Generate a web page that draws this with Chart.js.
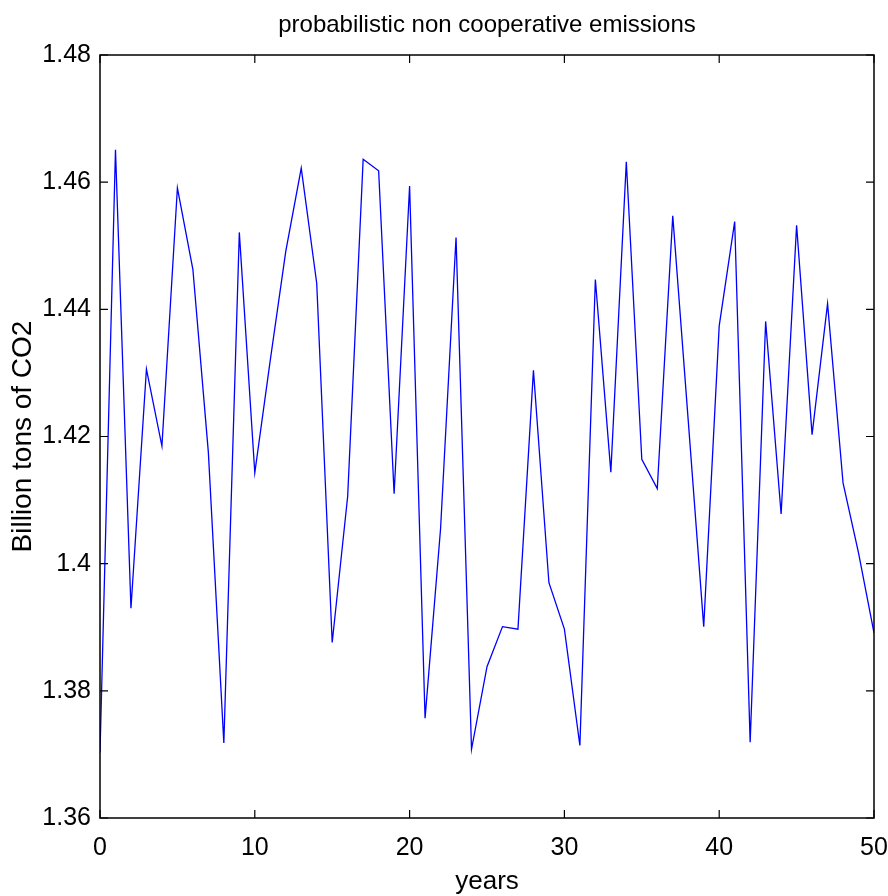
<!DOCTYPE html>
<html>
<head>
<meta charset="utf-8">
<title>probabilistic non cooperative emissions</title>
<script src="https://cdn.jsdelivr.net/npm/chart.js@4.4.1/dist/chart.umd.min.js"></script>
<style>
  html, body { margin: 0; padding: 0; background: #ffffff; overflow: hidden; }
  #wrap { width: 888px; height: 896px; position: relative; }
  #chart { display: block; }
</style>
</head>
<body>
<div id="wrap"><canvas id="chart"></canvas></div>
<script>
// Simulated yearly emissions (billion tons of CO2), years 0..50
const years = [
  0, 1, 2, 3, 4, 5, 6, 7, 8, 9,
  10, 11, 12, 13, 14, 15, 16, 17, 18, 19,
  20, 21, 22, 23, 24, 25, 26, 27, 28, 29,
  30, 31, 32, 33, 34, 35, 36, 37, 38, 39,
  40, 41, 42, 43, 44, 45, 46, 47, 48, 49, 50
];
const emissions = [
  1.3703, 1.4651, 1.3930, 1.4306, 1.4185, 1.4591, 1.4463, 1.4175, 1.3718, 1.4521,
  1.4143, 1.4320, 1.4491, 1.4622, 1.4441, 1.3876, 1.4106, 1.4636, 1.4618, 1.4110,
  1.4594, 1.3757, 1.4055, 1.4513, 1.3708, 1.3838, 1.3901, 1.3897, 1.4304, 1.3970,
  1.3897, 1.3714, 1.4447, 1.4144, 1.4632, 1.4164, 1.4118, 1.4547, 1.4225, 1.3901,
  1.4374, 1.4538, 1.3719, 1.4381, 1.4078, 1.4532, 1.4203, 1.4409, 1.4127, 1.4017,
  1.3891
];

const xTickValues = [0, 10, 20, 30, 40, 50];
const xTickLabels = ['0', '10', '20', '30', '40', '50'];
const yTickValues = [1.36, 1.38, 1.40, 1.42, 1.44, 1.46, 1.48];
const yTickLabels = ['1.36', '1.38', '1.4', '1.42', '1.44', '1.46', '1.48'];

const titleText = 'probabilistic non cooperative emissions';
const FONT = "'Liberation Sans', Arial, Helvetica, sans-serif";

// Title centred over the plotting box
const plotTitle = {
  id: 'plotTitle',
  afterDraw(chart) {
    const { ctx, chartArea: a } = chart;
    ctx.save();
    ctx.fillStyle = '#000000';
    ctx.font = '24px ' + FONT;
    ctx.textAlign = 'center';
    ctx.textBaseline = 'middle';
    ctx.fillText(titleText, (a.left + a.right) / 2, 25);
    ctx.restore();
  }
};

// Boxed axes with inward tick marks on all four sides
const boxAxes = {
  id: 'boxAxes',
  afterDraw(chart) {
    const { ctx, chartArea: a, scales } = chart;
    const len = 8;
    ctx.save();
    ctx.strokeStyle = '#000000';
    ctx.lineWidth = 1.5;
    ctx.strokeRect(a.left, a.top, a.right - a.left, a.bottom - a.top);
    ctx.lineWidth = 1.2;
    ctx.beginPath();
    scales.x.ticks.forEach(t => {
      const px = scales.x.getPixelForValue(t.value);
      ctx.moveTo(px, a.bottom); ctx.lineTo(px, a.bottom - len);
      ctx.moveTo(px, a.top);    ctx.lineTo(px, a.top + len);
    });
    scales.y.ticks.forEach(t => {
      const py = scales.y.getPixelForValue(t.value);
      ctx.moveTo(a.left, py);  ctx.lineTo(a.left + len, py);
      ctx.moveTo(a.right, py); ctx.lineTo(a.right - len, py);
    });
    ctx.stroke();
    ctx.restore();
  }
};

new Chart(document.getElementById('chart'), {
  type: 'line',
  data: {
    datasets: [{
      data: years.map((x, i) => ({ x: x, y: emissions[i] })),
      borderColor: '#0000ff',
      borderWidth: 1.3,
      pointRadius: 0,
      tension: 0,
      fill: false
    }]
  },
  options: {
    responsive: true,
    maintainAspectRatio: false,
    animation: false,
    devicePixelRatio: 1,
    layout: { padding: { left: 0, right: 14, top: 55, bottom: 0 } },
    plugins: {
      legend: { display: false },
      tooltip: { enabled: false },
      title: { display: false }
    },
    scales: {
      x: {
        type: 'linear',
        min: 0,
        max: 50,
        afterBuildTicks(scale) { scale.ticks = xTickValues.map(v => ({ value: v })); },
        afterFit(scale) {
          scale.height = 78;
          scale.paddingLeft = 0;
          scale.paddingRight = 0;
        },
        grid: { display: false, drawTicks: false },
        border: { display: false },
        ticks: {
          color: '#000000',
          font: { family: FONT, size: 25 },
          padding: 15,
          maxRotation: 0,
          callback(value) { const i = xTickValues.indexOf(value); return i >= 0 ? xTickLabels[i] : ''; }
        },
        title: {
          display: true,
          text: 'years',
          color: '#000000',
          font: { family: FONT, size: 26, lineHeight: 1.0 },
          padding: { top: 0, bottom: 1 }
        }
      },
      y: {
        type: 'linear',
        min: 1.36,
        max: 1.48,
        afterBuildTicks(scale) { scale.ticks = yTickValues.map(v => ({ value: v })); },
        afterFit(scale) {
          scale.width = 100;
          scale.paddingTop = 0;
          scale.paddingBottom = 0;
        },
        grid: { display: false, drawTicks: false },
        border: { display: false },
        ticks: {
          color: '#000000',
          font: { family: FONT, size: 25 },
          padding: 9,
          callback(value) {
            const i = yTickValues.findIndex(v => Math.abs(v - value) < 1e-9);
            return i >= 0 ? yTickLabels[i] : '';
          }
        },
        title: {
          display: true,
          text: 'Billion tons of CO2',
          color: '#000000',
          font: { family: FONT, size: 28, lineHeight: 1.0 },
          padding: { top: 9, bottom: 0 }
        }
      }
    }
  },
  plugins: [boxAxes, plotTitle]
});
</script>
</body>
</html>
